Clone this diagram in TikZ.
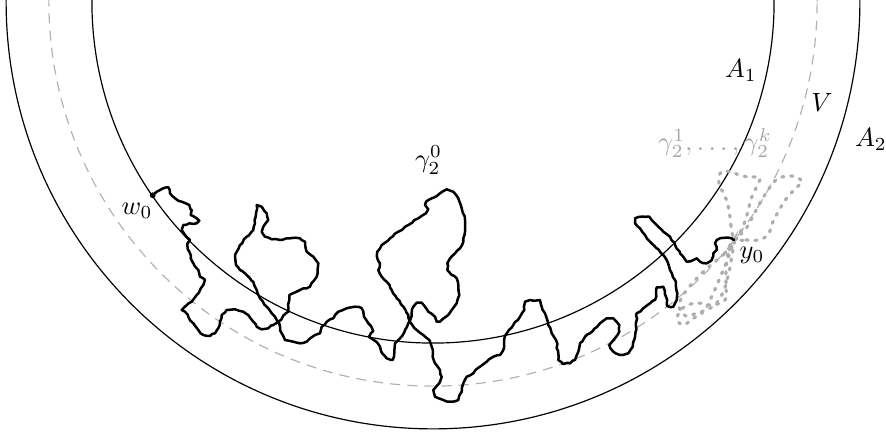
\documentclass[tikz,border=0pt]{standalone}
\usetikzlibrary{decorations.pathmorphing}
\begin{document}
\begin{tikzpicture}[x=0.3788pt,y=-0.3788pt,
  ring/.style={line width=0.45pt},
  vring/.style={line width=0.45pt, draw=black!30, dash pattern=on 3.8pt off 2.7pt},
  walk/.style={line width=0.95pt, line join=round, line cap=round, decorate,
    decoration={random steps, segment length=1.4pt, amplitude=0.3pt}},
  loopwalk/.style={draw=black!32, line width=1.2pt, line cap=round, dash pattern=on 0.8pt off 2.6pt},
  lab/.style={inner sep=0pt}]
\useasboundingbox (0,0) rectangle (886,432);
\coordinate (C) at (433,2);
\coordinate (w0) at (152.7,195.3);
\coordinate (y0) at (734,240);
\begin{scope}
  \clip (0,0) rectangle (886,432);
  \draw[ring] (C) circle[radius=129.2pt];
  \draw[vring] (C) circle[radius=145.5pt];
  \draw[ring] (C) circle[radius=161.7pt];
\end{scope}
% gray loops gamma_2^1 ... gamma_2^k
\draw[loopwalk] plot[smooth cycle, tension=0.6] coordinates {(734,240) (731,226) (729,210) (725,196) (719,184) (721,172) (731,172) (742,176) (752,177) (760,178) (756,188) (751,199) (748,211) (744,224) (739,235)};
\draw[loopwalk] plot[smooth cycle, tension=0.6] coordinates {(734,240) (746,240) (758,240) (768,235) (772,224) (778,212) (786,199) (796,188) (802,182) (796,177) (786,176) (776,180) (768,190) (760,203) (753,216) (745,230)};
\draw[loopwalk] plot[smooth cycle, tension=0.6] coordinates {(734,240) (728,254) (726,270) (726,286) (725,300) (712,305) (697,303) (684,307) (677,318) (683,325) (694,318) (704,311) (711,298) (719,280) (728,258)};
\draw[loopwalk] plot[smooth cycle, tension=0.6] coordinates {(734,240) (724,254) (712,264) (700,275) (690,286) (682,297) (679,307) (686,316) (697,313) (706,310) (716,304) (724,290) (729,272) (732,255)};
% gamma_2^0
\draw[walk] (w0) -- (156.7,191.7) -- (161.7,189) -- (168.3,187.3) -- (170,193.3) -- (175,198.3) -- (181.7,201.7) -- (189.3,205) -- (191.7,210) -- (190.7,215) -- (196.7,218.3) -- (199.3,220.7) -- (196.7,223.3) -- (189.3,223.3) -- (183.3,225) -- (181.7,230) -- (185,235) -- (190,240) -- (187.3,245) -- (189.3,251.7) -- (190.7,258.3) -- (193.3,263.3) -- (198.3,270) -- (200,276.7) -- (205,280) -- (203.3,285) -- (200,290) -- (196.7,295) -- (191.7,301.7) -- (185,306.7) -- (181.7,310) -- (185,311.7) -- (188.3,316.7) -- (193.3,323.3) -- (198.3,330) -- (203.3,335) -- (210,336) -- (215,333.3) -- (218.3,328.3) -- (220,321.7) -- (221.7,315) -- (226.7,310) -- (235,309.3) -- (243.3,311.7) -- (248.3,315) -- (253.3,321.7) -- (256.7,326.7) -- (261.7,329.3) -- (268.3,328.3) -- (273.3,325) -- (278.3,321.7) -- (288.3,311.7) -- (289.3,295) -- (300,290) -- (310,286.7) -- (316.7,276.7) -- (318.3,263.3) -- (313.3,256.7) -- (306.7,251.7) -- (305,241.7) -- (300,238.3) -- (290,238.3) -- (280,240) -- (271.7,239.3) -- (265,236.7) -- (261.7,231.7) -- (263.3,226.7) -- (268.3,220) -- (266.7,213.3) -- (261.7,206.7) -- (256.7,205) -- (256,213.3) -- (255,223.3) -- (253.3,230) -- (246.7,236.7) -- (240,245) -- (235,255) -- (236,265) -- (240,270) -- (246.7,275) -- (253.3,281.7) -- (256.7,290) -- (260,298.3) -- (266.7,306.7) -- (271.7,313.3) -- (276.7,320) -- (280,326.7) -- (281.7,333.3) -- (285,340) -- (293.3,341.7) -- (300,343.3) -- (306.7,341.7) -- (310,338.3) -- (315,335) -- (320,333.3) -- (321.7,326.7) -- (326.7,321.7) -- (333.3,318.3) -- (338.3,311.7) -- (346.7,308.3) -- (355,306.7) -- (361.7,308.3) -- (364,316.7) -- (368.3,323.3) -- (373.3,331) -- (369,337) -- (376.7,342) -- (380,347) -- (382,353) -- (386.7,358.3) -- (392.7,360) -- (394.3,351.7) -- (395,343.3) -- (400,338.3) -- (405,330) -- (408.3,323.3) -- (411.7,313.3) -- (413.3,306.7) -- (416.7,302.7) -- (421.7,302.7) -- (425,306.7) -- (428.3,311.7) -- (435,316.7) -- (436.7,321.7) -- (440,321.7) -- (446,316.7) -- (451.7,310) -- (456.7,303.3) -- (459.3,295) -- (458.3,285) -- (456.7,278.3) -- (451.7,275) -- (447.3,270) -- (447.3,263.3) -- (450,258.3) -- (455,253.3) -- (460,248.3) -- (463.3,241.7) -- (465,231.7) -- (465,220) -- (461.7,208.3) -- (458.3,198.3) -- (453.3,191.7) -- (446.7,189.3) -- (440,193.3) -- (431.7,198.3) -- (426,201.7) -- (425,205) -- (428.3,209.3) -- (426,213.3) -- (418.3,218.3) -- (408.3,225) -- (398.3,231.7) -- (390,238.3) -- (381.7,245) -- (377.3,251.7) -- (377.3,258.3) -- (380,263.3) -- (378.3,270) -- (381.7,276.7) -- (386.7,281.7) -- (391.7,290) -- (396.7,298.3) -- (403.3,306.7) -- (408.3,315) -- (410,321.7) -- (416.7,330) -- (423.3,335) -- (429.3,340) -- (431.7,346.7) -- (432.7,356.7) -- (435,363.3) -- (440,370) -- (441.7,376.7) -- (439.3,383.3) -- (433.3,390) -- (435,396.7) -- (443.3,400) -- (451.7,401.7) -- (458.3,400) -- (461.7,391.7) -- (463.3,383.3) -- (466.7,376.7) -- (473.3,373.3) -- (480,366.7) -- (486.7,361.7) -- (493.3,356.7) -- (500,355) -- (503.3,350) -- (504,340) -- (506.7,333.3) -- (513.3,325) -- (520,316.7) -- (524.3,310) -- (525,301.7) -- (530,300) -- (540,300) -- (541.7,306.7) -- (545,313.3) -- (548.3,325) -- (551.7,333.3) -- (556,340) -- (558.3,353.3) -- (558.3,360) -- (562.7,364) -- (570,363.3) -- (575,360) -- (578.3,351.7) -- (580,343.3) -- (585,336.7) -- (590,333.3) -- (594,329) -- (600,323.3) -- (606.7,318.3) -- (613.3,318.3) -- (619.3,325) -- (619.3,331.7) -- (615,338.3) -- (609.3,345) -- (613.3,351.7) -- (620,355) -- (628.3,353.3) -- (632.7,346.7) -- (635,336.7) -- (636,326.7) -- (636.7,313.3) -- (643.3,308.3) -- (650,303.3) -- (655,300) -- (656,293.3) -- (656.7,287.3) -- (663.3,286.7) -- (666,296.7) -- (667.3,306) -- (673.3,306.7) -- (676.7,300) -- (677.3,293.3) -- (675,280) -- (670,270) -- (666.7,260) -- (663.3,255) -- (656.7,248.3) -- (650,241.7) -- (645,235) -- (640,228.3) -- (635,223.3) -- (635,218.3) -- (641.7,216.7) -- (649.3,216.7) -- (653.3,221.7) -- (658.3,226.7) -- (663.3,231.7) -- (670,236.7) -- (675,245) -- (680,253.3) -- (686.7,261.7) -- (693.3,260) -- (696.7,258.3) -- (700,261.7) -- (706.7,263.3) -- (711.7,260) -- (713.3,253.3) -- (716.7,250) -- (715,243.3) -- (716.7,240) -- (720,238.3) -- (728.3,237.7) -- (y0);
\fill (w0) circle[radius=1.1pt];
% labels
\node[lab] (A1) at (741,70) {$A_1$};
\node[lab] (V) at (822,102) {$V$};
\node[lab] (A2) at (871,139) {$A_2$};
\node[lab] (g0) at (428.5,160) {$\gamma_2^0$};
\node[lab, text=black!35] (gk) at (715,143) {$\gamma_2^1,\ldots,\gamma_2^k$};
\node[lab] (w0l) at (137,211) {$w_0$};
\node[lab] (y0l) at (752,255) {$y_0$};
\end{tikzpicture}
\end{document}
